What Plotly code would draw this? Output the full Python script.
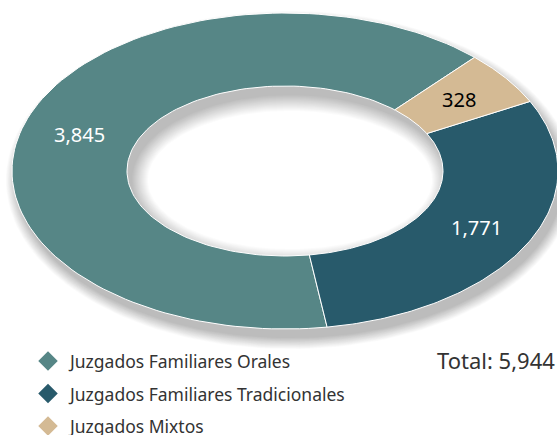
import math
import plotly.graph_objects as go

categories = ["Juzgados Familiares Orales", "Juzgados Familiares Tradicionales", "Juzgados Mixtos"]
values = [3845, 1771, 328]
colors = ["#568686", "#285A6B", "#D4BA94"]
label_colors = ["white", "white", "black"]

W, H = 557, 435
CX, CY = 285, 171
A_OUT, B_OUT = 273, 158
A_IN, B_IN = 158, 85
START = 44.0  # degrees clockwise from 12 o'clock; slices run counter-clockwise
FONT = "Noto Sans"


def pt(theta_deg, ax, by, cx=CX, cy=CY):
    t = math.radians(theta_deg)
    return cx + ax * math.sin(t), cy - by * math.cos(t)


def arc(t1, t2, ax, by, cx=CX, cy=CY, n=120):
    xs, ys = [], []
    for i in range(n + 1):
        t = t1 + (t2 - t1) * i / n
        x, y = pt(t, ax, by, cx, cy)
        xs.append(x)
        ys.append(y)
    return xs, ys


fig = go.Figure()

# soft shadow (ring offset down-right, layered)
SDX, SDY = 5, 9
NL = 16
for s in range(NL, -1, -1):
    so = s * 0.7
    ox, oy = arc(0, 360, A_OUT + so, B_OUT + so, CX + SDX, CY + SDY, 180)
    ix, iy = arc(360, 0, max(A_IN - s, 1), max(B_IN - s, 1), CX + SDX, CY + SDY, 180)
    fig.add_trace(go.Scatter(x=ox + ix, y=oy + iy, mode="lines", fill="toself",
                             fillcolor="rgba(0,0,0,0.014)", line=dict(width=0),
                             hoverinfo="skip", showlegend=False))

total = sum(values)
angle = START
for cat, v, col, lc in zip(categories, values, colors, label_colors):
    span = 360.0 * v / total
    t1, t2 = angle, angle - span
    ox, oy = arc(t1, t2, A_OUT, B_OUT)
    ix, iy = arc(t2, t1, A_IN, B_IN)
    fig.add_trace(go.Scatter(x=ox + ix + [ox[0]], y=oy + iy + [oy[0]], mode="lines",
                             fill="toself", fillcolor=col,
                             line=dict(color="white", width=1),
                             hoverinfo="text", text=f"{cat}: {v:,}", showlegend=False))
    mid = (t1 + t2) / 2
    lx, ly = pt(mid, (A_OUT + A_IN) / 2, (B_OUT + B_IN) / 2)
    fig.add_annotation(x=lx, y=ly, text=f"{v:,}", showarrow=False,
                       font=dict(family=FONT, size=20, color=lc))
    angle = t2

# legend (manual, diamonds)
LX, LTX, LY0, LDY = 48, 66, 361, 32.5
ys = [LY0 + LDY * i for i in range(len(categories))]
fig.add_trace(go.Scatter(
    x=[LX] * len(categories), y=ys, mode="markers",
    marker=dict(symbol="diamond", size=15, color=colors),
    hoverinfo="skip", showlegend=False, cliponaxis=False))
for c, y in zip(categories, ys):
    fig.add_annotation(x=LTX, y=y, xanchor="left", text=c, showarrow=False,
                       font=dict(family=FONT, size=17.5, color="#333333"))

fig.add_annotation(x=W, y=360, xanchor="right", text=f"Total: {total:,}", showarrow=False,
                   font=dict(family=FONT, size=22, color="#333333"))

fig.update_layout(
    width=W, height=H, margin=dict(l=0, r=0, t=0, b=0),
    paper_bgcolor="white", plot_bgcolor="white",
    xaxis=dict(range=[0, W], visible=False, fixedrange=True),
    yaxis=dict(range=[H, 0], visible=False, fixedrange=True),
    showlegend=False,
)
fig.write_html("out.html", config={"displayModeBar": False},
               post_script="document.body.style.margin='0';document.body.style.overflow='hidden';")
